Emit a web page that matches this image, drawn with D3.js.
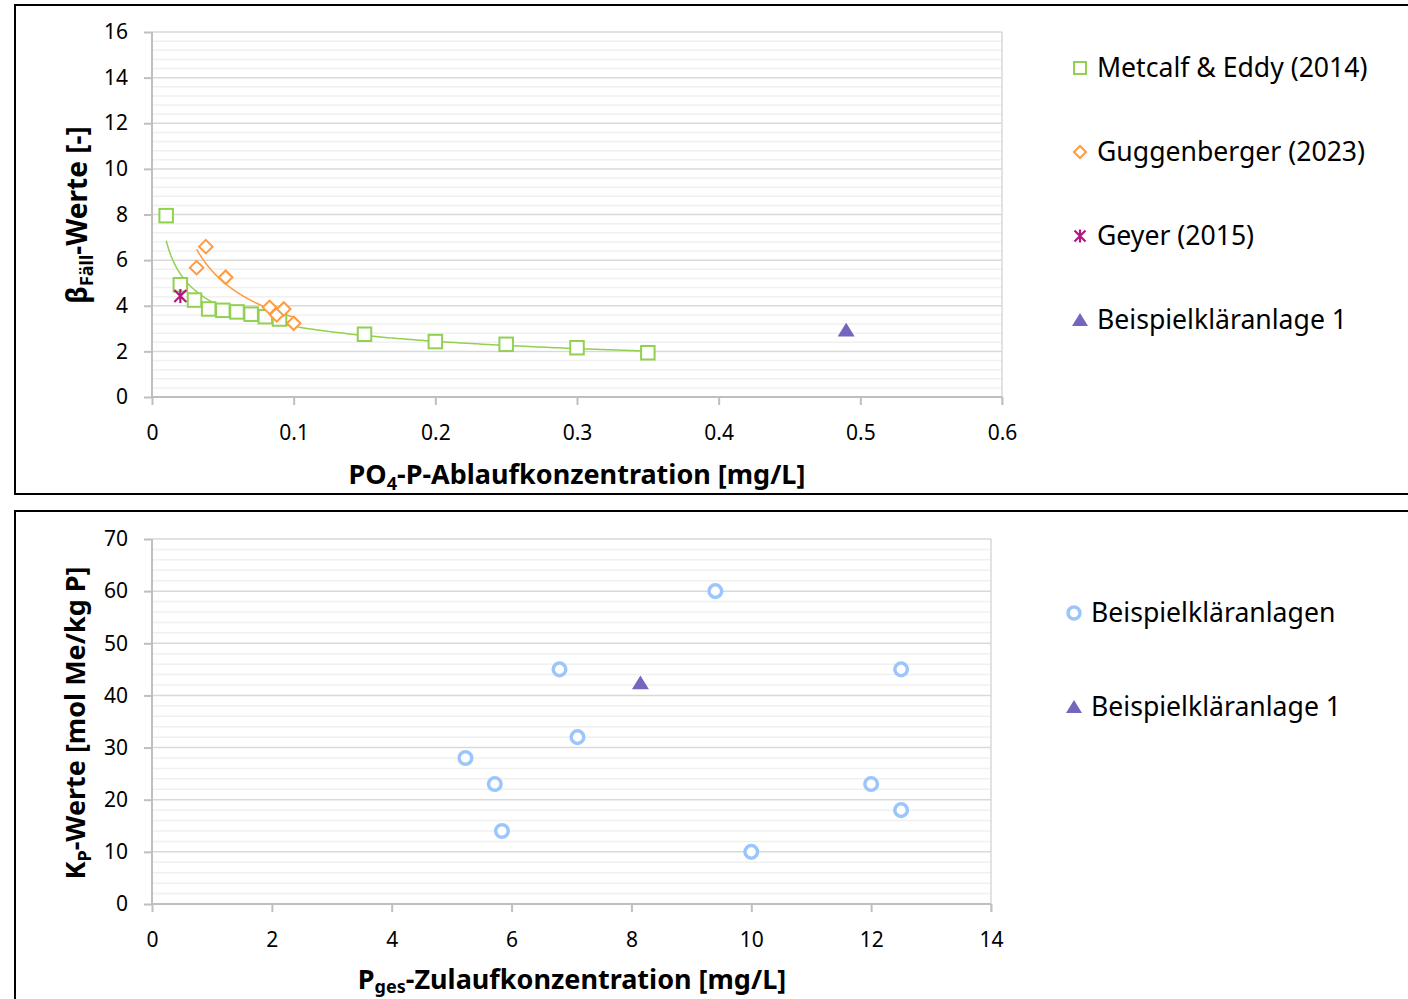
<!DOCTYPE html>
<html><head><meta charset="utf-8">
<script src="https://cdn.jsdelivr.net/npm/d3@7"></script>
<style>
html,body{margin:0;padding:0;background:#fff;}
text{font-family:"Noto Sans","Open Sans",sans-serif;fill:#000;}
</style></head>
<body>
<svg id="c" width="1408" height="999"></svg>
<script>
// ---------- DATA ----------
// Top chart: beta_Fäll values vs PO4-P effluent concentration
const metcalfX = [0.01, 0.02, 0.03, 0.04, 0.05, 0.06, 0.07, 0.08, 0.09, 0.15, 0.20, 0.25, 0.30, 0.35];
const metcalfY = [7.95, 4.92, 4.25, 3.86, 3.80, 3.73, 3.63, 3.52, 3.42, 2.75, 2.43, 2.31, 2.16, 1.94];
const guggX = [0.0315, 0.038, 0.052, 0.083, 0.088, 0.093, 0.100];
const guggY = [5.67, 6.59, 5.25, 3.93, 3.60, 3.86, 3.23];
const geyerX = [0.02];
const geyerY = [4.43];
const bsp1TopX = [0.49];
const bsp1TopY = [2.93];
const topXTicks = [0, 0.1, 0.2, 0.3, 0.4, 0.5, 0.6];
const topYTicks = [0, 2, 4, 6, 8, 10, 12, 14, 16];
const topLegend = ["Metcalf & Eddy (2014)", "Guggenberger (2023)", "Geyer (2015)", "Beispielkläranlage 1"];

// Bottom chart: K_P values vs P_ges influent concentration
const plantsX = [9.4, 6.8, 12.5, 7.1, 5.23, 5.72, 12.0, 12.5, 5.84, 10.0];
const plantsY = [60, 45, 45, 32, 28, 23, 23, 18, 14, 10];
const bsp1BotX = [8.15];
const bsp1BotY = [42.4];
const botXTicks = [0, 2, 4, 6, 8, 10, 12, 14];
const botYTicks = [0, 10, 20, 30, 40, 50, 60, 70];
const botLegend = ["Beispielkläranlagen", "Beispielkläranlage 1"];

// ---------- STYLE ----------
const C = {green:"#92d050", orange:"#ff9a3d", magenta:"#b5177f", purple:"#7466bf", blue:"#9cc6fb",
           major:"#d9d9d9", minor:"#f0f0f0", axis:"#bfbfbf"};
const svg = d3.select("#c");
svg.append("rect").attr("width",1408).attr("height",999).attr("fill","#fff");

// frames
svg.append("rect").attr("x",15).attr("y",5).attr("width",1410).attr("height",489)
  .attr("fill","none").attr("stroke","#000").attr("stroke-width",2);
svg.append("rect").attr("x",15).attr("y",511).attr("width",1410).attr("height",510)
  .attr("fill","none").attr("stroke","#000").attr("stroke-width",2);

function powerFit(xs, ys){
  const lx = xs.map(Math.log), ly = ys.map(Math.log);
  const mx = d3.mean(lx), my = d3.mean(ly);
  let sxy=0, sxx=0;
  lx.forEach((v,i)=>{sxy+=(v-mx)*(ly[i]-my); sxx+=(v-mx)*(v-mx);});
  const b = sxy/sxx, a = Math.exp(my - b*mx);
  return x => a*Math.pow(x,b);
}

function drawGrid(g, x, y, yMax, majorStep, minorStep){
  const [x0,x1] = x.range();
  const minors = d3.range(0, yMax+1e-9, minorStep).filter(v => Math.abs(v/majorStep - Math.round(v/majorStep))>1e-6);
  g.selectAll(".mn").data(minors).join("line")
    .attr("x1",x0).attr("x2",x1).attr("y1",d=>y(d)).attr("y2",d=>y(d))
    .attr("stroke",C.minor).attr("stroke-width",1.5);
  const majors = d3.range(0, yMax+1e-9, majorStep);
  g.selectAll(".mj").data(majors).join("line")
    .attr("x1",x0).attr("x2",x1).attr("y1",d=>y(d)).attr("y2",d=>y(d))
    .attr("stroke",C.major).attr("stroke-width",1.5);
  g.append("line").attr("x1",x1).attr("x2",x1).attr("y1",y.range()[1]).attr("y2",y.range()[0]+8)
    .attr("stroke",C.major).attr("stroke-width",1.5);
}

function drawAxes(g, x, y, xTicks, yTicks, xFmt){
  const xa = g.append("g").attr("transform",`translate(0,${y(0)})`)
    .call(d3.axisBottom(x).tickValues(xTicks).tickSize(8).tickPadding(20).tickFormat(xFmt));
  const ya = g.append("g").attr("transform",`translate(${x(0)},0)`)
    .call(d3.axisLeft(y).tickValues(yTicks).tickSize(8).tickPadding(16).tickFormat(d3.format("d")));
  [xa,ya].forEach(a=>{
    a.select(".domain").attr("stroke",C.axis).attr("stroke-width",2);
    a.selectAll(".tick line").attr("stroke",C.axis).attr("stroke-width",2);
    a.selectAll(".tick text").attr("font-size",21).attr("font-family",'"Noto Sans","Open Sans",sans-serif').attr("fill","#000");
  });
  ya.select(".domain").attr("d",`M0,${y.range()[0]}V${y.range()[1]}`);
  xa.select(".domain").attr("d",`M${x.range()[0]},0H${x.range()[1]}`);
}

function squareMarker(sel, s, color){
  sel.append("rect").attr("x",-s/2).attr("y",-s/2).attr("width",s).attr("height",s)
    .attr("fill","#fff").attr("stroke",color).attr("stroke-width",2);
}
function diamondMarker(sel, s, color){
  const h=s/2;
  sel.append("path").attr("d",`M0,${-h}L${h},0L0,${h}L${-h},0Z`)
    .attr("fill","#fff").attr("stroke",color).attr("stroke-width",2);
}
function starMarker(sel, s, color){
  const h=s/2;
  sel.append("path").attr("d",`M${-h},${-h}L${h},${h}M${-h},${h}L${h},${-h}M0,${-h-1}L0,${h+1}`)
    .attr("fill","none").attr("stroke",color).attr("stroke-width",2.2);
}
function triMarker(sel, s, color){
  const h=s/2;
  sel.append("path").attr("d",`M0,${-h}L${h+1},${h*0.85}L${-h-1},${h*0.85}Z`).attr("fill",color);
}
function circleMarker(sel, r, color){
  sel.append("circle").attr("r",r).attr("fill","#fff").attr("stroke",color).attr("stroke-width",3.5);
}

// ================= TOP CHART =================
{
  const x = d3.scaleLinear().domain([0,0.6]).range([152,1002]);
  const y = d3.scaleLinear().domain([0,16]).range([397,32]);
  const g = svg.append("g");
  drawGrid(g, x, y, 16, 2, 0.4);
  drawAxes(g, x, y, topXTicks, topYTicks, d=> d===0 ? "0" : d3.format(".1f")(d));

  const line = d3.line().x(d=>x(d[0])).y(d=>y(d[1]));
  const fG = powerFit(metcalfX, metcalfY);
  const xsG = d3.range(0,201).map(i=> d3.min(metcalfX) + (d3.max(metcalfX)-d3.min(metcalfX))*i/200);
  g.append("path").attr("d", line(xsG.map(v=>[v,fG(v)]))).attr("fill","none").attr("stroke",C.green).attr("stroke-width",1.5);
  const fO = powerFit(guggX, guggY);
  const xsO = d3.range(0,201).map(i=> d3.min(guggX) + (d3.max(guggX)-d3.min(guggX))*i/200);
  g.append("path").attr("d", line(xsO.map(v=>[v,fO(v)]))).attr("fill","none").attr("stroke",C.orange).attr("stroke-width",1.5);

  metcalfX.forEach((v,i)=> squareMarker(g.append("g").attr("transform",`translate(${x(v)},${y(metcalfY[i])})`), 13.5, C.green));
  guggX.forEach((v,i)=> diamondMarker(g.append("g").attr("transform",`translate(${x(v)},${y(guggY[i])})`), 13.5, C.orange));
  geyerX.forEach((v,i)=> starMarker(g.append("g").attr("transform",`translate(${x(v)},${y(geyerY[i])})`), 12, C.magenta));
  bsp1TopX.forEach((v,i)=> triMarker(g.append("g").attr("transform",`translate(${x(v)},${y(bsp1TopY[i])})`), 15, C.purple));

  const xt = g.append("text").attr("x",577).attr("y",484).attr("text-anchor","middle")
    .attr("font-size",27).attr("font-weight","bold");
  xt.append("tspan").text("PO");
  xt.append("tspan").attr("font-size",18).attr("dy",6).text("4");
  xt.append("tspan").attr("dy",-6).text("-P-Ablaufkonzentration [mg/L]");

  const yt = g.append("text").attr("transform","translate(87,215) rotate(-90)").attr("text-anchor","middle")
    .attr("font-size",28).attr("font-weight","bold");
  yt.append("tspan").text("β");
  yt.append("tspan").attr("font-size",18).attr("dy",6).text("Fäll");
  yt.append("tspan").attr("dy",-6).text("-Werte [-]");

  const ly = [68,152,236,320];
  const mk = [ (s)=>squareMarker(s,12,C.green), (s)=>diamondMarker(s,12,C.orange), (s)=>starMarker(s,11,C.magenta), (s)=>triMarker(s,14,C.purple) ];
  topLegend.forEach((t,i)=>{
    const lg = g.append("g").attr("transform",`translate(1080,${ly[i]})`);
    mk[i](lg);
    lg.append("text").attr("x",17).attr("dy","0.35em").attr("font-size",26.6).text(t);
  });
}

// ================= BOTTOM CHART =================
{
  const x = d3.scaleLinear().domain([0,14]).range([152,991]);
  const y = d3.scaleLinear().domain([0,70]).range([904,539]);
  const g = svg.append("g");
  drawGrid(g, x, y, 70, 10, 2);
  drawAxes(g, x, y, botXTicks, botYTicks, d3.format("d"));

  plantsX.forEach((v,i)=> circleMarker(g.append("g").attr("transform",`translate(${x(v)},${y(plantsY[i])})`), 6.3, C.blue));
  bsp1BotX.forEach((v,i)=> triMarker(g.append("g").attr("transform",`translate(${x(v)},${y(bsp1BotY[i])})`), 15, C.purple));

  const xt = g.append("text").attr("x",572).attr("y",989).attr("text-anchor","middle")
    .attr("font-size",27).attr("font-weight","bold");
  xt.append("tspan").text("P");
  xt.append("tspan").attr("font-size",18).attr("dy",4).text("ges");
  xt.append("tspan").attr("dy",-4).text("-Zulaufkonzentration [mg/L]");

  const yt = g.append("text").attr("transform","translate(85,723) rotate(-90)").attr("text-anchor","middle")
    .attr("font-size",27).attr("font-weight","bold");
  yt.append("tspan").text("K");
  yt.append("tspan").attr("font-size",18).attr("dy",6).text("P");
  yt.append("tspan").attr("dy",-6).text("-Werte [mol Me/kg P]");

  const ly = [613,707];
  const mk = [ (s)=>circleMarker(s,6,C.blue), (s)=>triMarker(s,14,C.purple) ];
  botLegend.forEach((t,i)=>{
    const lg = g.append("g").attr("transform",`translate(1074,${ly[i]})`);
    mk[i](lg);
    lg.append("text").attr("x",17).attr("dy","0.35em").attr("font-size",26.6).text(t);
  });
}
</script>
</body></html>
